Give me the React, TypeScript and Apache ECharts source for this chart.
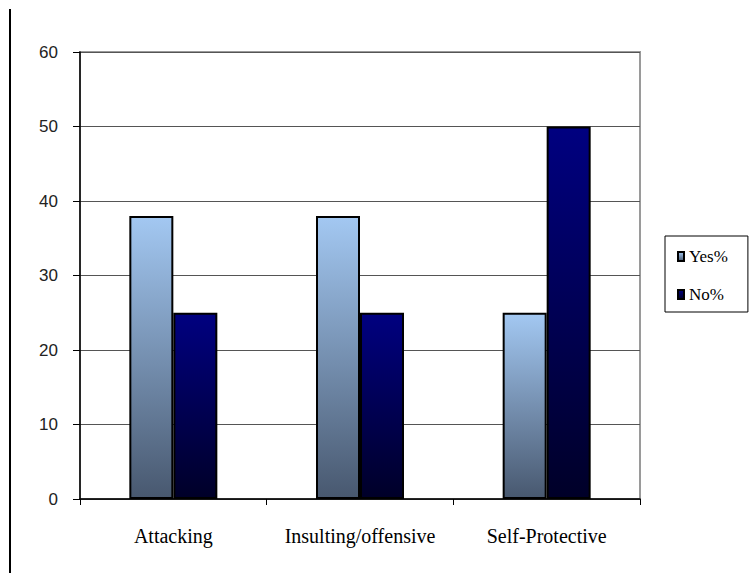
import React, { useEffect, useRef } from "react";
import * as echarts from "echarts";

const categories = ["Attacking", "Insulting/offensive", "Self-Protective"];
const yesValues = [38, 38, 25];
const noValues = [25, 25, 50];
const seriesNames = ["Yes%", "No%"];

export default function App() {
  const ref = useRef<HTMLDivElement>(null);

  useEffect(() => {
    if (!ref.current) return;
    const chart = echarts.init(ref.current, null, { renderer: "svg" });

    const yesFill = new echarts.graphic.LinearGradient(0, 0, 0, 1, [
      { offset: 0, color: "#a3c8f2" },
      { offset: 1, color: "#48586f" },
    ]);
    const noFill = new echarts.graphic.LinearGradient(0, 0, 0, 1, [
      { offset: 0, color: "#000080" },
      { offset: 1, color: "#000028" },
    ]);

    chart.setOption({
      animation: false,
      backgroundColor: "#ffffff",
      grid: {
        left: 80,
        right: 115,
        top: 52,
        bottom: 74,
        show: true,
        borderColor: "#9a9a9a",
        borderWidth: 2,
      },
      legend: {
        orient: "vertical",
        left: 665,
        top: 236,
        data: seriesNames,
        icon: "rect",
        itemWidth: 6,
        itemHeight: 9,
        itemGap: 21,
        padding: [12, 20, 9, 12],
        borderColor: "#000",
        borderWidth: 1,
        textStyle: {
          fontFamily: "Liberation Serif",
          fontSize: 17,
          color: "#000",
        },
      },
      xAxis: {
        type: "category",
        data: categories,
        axisLine: { lineStyle: { color: "#000", width: 1.5 } },
        axisTick: { show: true, length: 6, lineStyle: { color: "#000" } },
        axisLabel: {
          interval: 0,
          hideOverlap: false,
          margin: 27,
          fontFamily: "Liberation Serif",
          fontSize: 20,
          color: "#000",
        },
      },
      yAxis: {
        type: "value",
        min: 0,
        max: 60,
        interval: 10,
        axisLine: { show: true, lineStyle: { color: "#000", width: 1.5 } },
        axisTick: { show: true, length: 7, lineStyle: { color: "#000" } },
        axisLabel: {
          margin: 22,
          fontFamily: "Liberation Sans",
          fontSize: 17,
          color: "#222",
        },
        splitLine: { lineStyle: { color: "#555", width: 1 } },
      },
      series: [
        {
          name: seriesNames[0],
          type: "bar",
          data: yesValues,
          barWidth: 44,
          barGap: "0%",
          itemStyle: { color: yesFill, borderColor: "#000", borderWidth: 2 },
        },
        {
          name: seriesNames[1],
          type: "bar",
          data: noValues,
          barWidth: 44,
          barGap: "0%",
          itemStyle: { color: noFill, borderColor: "#000", borderWidth: 2 },
        },
      ],
      graphic: [
        {
          type: "line",
          shape: { x1: 10, y1: 9, x2: 10, y2: 573 },
          style: { stroke: "#000", lineWidth: 2 },
        },
      ],
    });

    return () => chart.dispose();
  }, []);

  return (
    <div
      ref={ref}
      style={{ position: "absolute", left: 0, top: 0, width: 755, height: 573 }}
    />
  );
}
